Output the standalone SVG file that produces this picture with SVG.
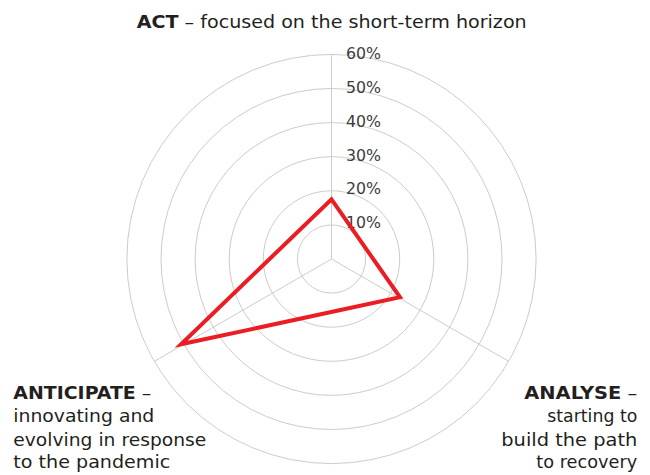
<svg xmlns="http://www.w3.org/2000/svg" width="650" height="475" viewBox="0 0 650 475">
<style>
.grid{fill:none;stroke:#cccccc;stroke-width:1}
.axis{stroke:#cccccc;stroke-width:1}
.t{font-family:"DejaVu Sans","Liberation Sans",sans-serif;fill:#231f20}
.lbl{font-size:18px}
.title{font-size:17px}
.pct{font-family:"DejaVu Sans","Liberation Sans",sans-serif;font-size:16.5px;fill:#3c3c3c}
.b{font-weight:bold}
.series{fill:none;stroke:#ec1c24;stroke-width:4;stroke-linejoin:miter}
</style>
<rect width="650" height="475" fill="#ffffff"/>
<g id="grid">
<circle class="grid" cx="331.5" cy="259" r="34.1"/>
<circle class="grid" cx="331.5" cy="259" r="68.2"/>
<circle class="grid" cx="331.5" cy="259" r="102.3"/>
<circle class="grid" cx="331.5" cy="259" r="136.4"/>
<circle class="grid" cx="331.5" cy="259" r="170.5"/>
<circle class="grid" cx="331.5" cy="259" r="204.6"/>
</g>
<g id="connectors">
<line class="axis" x1="331.5" y1="259" x2="331.5" y2="54.4"/>
<line class="axis" x1="331.5" y1="259" x2="508.7" y2="361.3"/>
<line class="axis" x1="331.5" y1="259" x2="154.3" y2="361.3"/>
</g>
<g id="scale">
<text class="pct" x="346" y="59.3" textLength="35" lengthAdjust="spacingAndGlyphs">60%</text>
<text class="pct" x="346" y="93" textLength="35" lengthAdjust="spacingAndGlyphs">50%</text>
<text class="pct" x="346" y="126.7" textLength="35" lengthAdjust="spacingAndGlyphs">40%</text>
<text class="pct" x="346" y="160.5" textLength="35" lengthAdjust="spacingAndGlyphs">30%</text>
<text class="pct" x="346" y="194.2" textLength="35" lengthAdjust="spacingAndGlyphs">20%</text>
<text class="pct" x="346" y="228" textLength="35" lengthAdjust="spacingAndGlyphs">10%</text>
</g>
<g id="series">
<polygon class="series" points="331.5,199.3 400,297.3 181,344.3"/>
</g>
<g id="act">
<text class="t title" x="136.7" y="27.5" textLength="390" lengthAdjust="spacingAndGlyphs"><tspan class="b">ACT</tspan> – focused on the short-term horizon</text>
</g>
<g id="anticipate">
<text class="t lbl" x="13.3" y="399" textLength="138" lengthAdjust="spacingAndGlyphs"><tspan class="b">ANTICIPATE</tspan> –</text>
<text class="t lbl" x="13.3" y="421.7" textLength="141" lengthAdjust="spacingAndGlyphs">innovating and</text>
<text class="t lbl" x="13.3" y="446" textLength="193" lengthAdjust="spacingAndGlyphs">evolving in response</text>
<text class="t lbl" x="13.3" y="468.3" textLength="157" lengthAdjust="spacingAndGlyphs">to the pandemic</text>
</g>
<g id="analyse">
<text class="t lbl" x="637.3" y="399" text-anchor="end" textLength="113" lengthAdjust="spacingAndGlyphs"><tspan class="b">ANALYSE</tspan> –</text>
<text class="t lbl" x="637.3" y="421.7" text-anchor="end" textLength="90" lengthAdjust="spacingAndGlyphs">starting to</text>
<text class="t lbl" x="637.3" y="446" text-anchor="end" textLength="136" lengthAdjust="spacingAndGlyphs">build the path</text>
<text class="t lbl" x="637.3" y="468.3" text-anchor="end" textLength="101" lengthAdjust="spacingAndGlyphs">to recovery</text>
</g>
</svg>
